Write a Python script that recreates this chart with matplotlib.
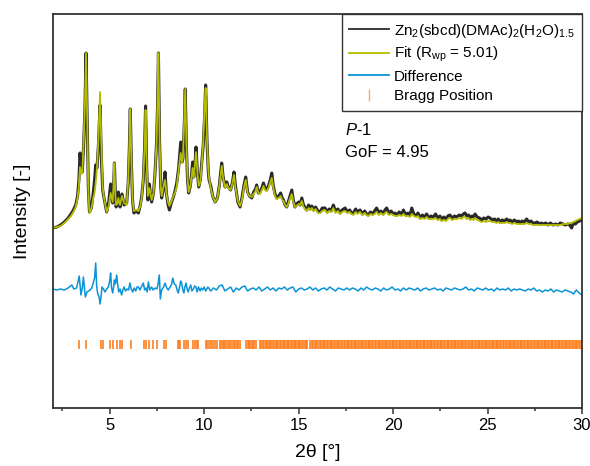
import numpy as np
import matplotlib
matplotlib.use("Agg")
import matplotlib.pyplot as plt
from matplotlib.lines import Line2D

plt.rcParams["font.family"] = ["Liberation Sans", "DejaVu Sans"]
plt.rcParams["mathtext.fontset"] = "custom"
plt.rcParams["mathtext.rm"] = "Liberation Sans"
plt.rcParams["mathtext.it"] = "Liberation Sans:italic"

# 2theta grid shared by the observed and calculated patterns
two_theta = [
    2.00, 2.20, 2.40, 2.60, 2.80, 2.95, 3.08, 3.20, 3.30, 3.37,
    3.43, 3.50, 3.55, 3.62, 3.69, 3.75, 3.81, 3.87, 3.93, 4.03,
    4.13, 4.20, 4.26, 4.33, 4.41, 4.49, 4.56, 4.63, 4.72, 4.84,
    4.95, 5.05, 5.11, 5.16, 5.21, 5.25, 5.30, 5.34, 5.40, 5.46,
    5.51, 5.55, 5.65, 5.76, 5.90, 5.98, 6.04, 6.09, 6.15, 6.21,
    6.28, 6.40, 6.52, 6.62, 6.69, 6.78, 6.85, 6.90, 6.96, 7.02,
    7.10, 7.16, 7.22, 7.32, 7.40, 7.48, 7.53, 7.58, 7.64, 7.70,
    7.75, 7.85, 7.93, 8.00, 8.08, 8.16, 8.26, 8.37, 8.47, 8.55,
    8.65, 8.76, 8.84, 8.88, 8.95, 9.00, 9.06, 9.12, 9.18, 9.27,
    9.34, 9.39, 9.45, 9.52, 9.57, 9.64, 9.71, 9.80, 9.87, 9.95,
    10.02, 10.08, 10.15, 10.22, 10.26, 10.35, 10.45, 10.58, 10.70, 10.80,
    10.87, 10.93, 11.00, 11.11, 11.20, 11.28, 11.40, 11.50, 11.58, 11.66,
    11.78, 11.90, 12.00, 12.10, 12.20, 12.30, 12.40, 12.52, 12.62, 12.72,
    12.78, 12.87, 12.96, 13.05, 13.14, 13.22, 13.31, 13.40, 13.50, 13.58,
    13.66, 13.75, 13.84, 13.95, 14.05, 14.13, 14.20, 14.28, 14.37, 14.45,
    14.55, 14.64, 14.72, 14.81, 14.90, 15.00, 15.08, 15.17, 15.26, 15.35,
    15.43, 15.53, 15.62, 15.70, 15.80, 15.90, 16.02, 16.14, 16.25, 16.40,
    16.52, 16.62, 16.72, 16.84, 16.95, 17.08, 17.19, 17.30, 17.46, 17.58,
    17.70, 17.80, 17.90, 18.02, 18.12, 18.25, 18.38, 18.50, 18.60, 18.69,
    18.80, 18.92, 19.02, 19.13, 19.25, 19.35, 19.48, 19.57, 19.66, 19.78,
    19.90, 20.00, 20.10, 20.22, 20.32, 20.45, 20.55, 20.66, 20.78, 20.90,
    20.99, 21.10, 21.22, 21.32, 21.43, 21.55, 21.66, 21.78, 21.88, 22.00,
    22.13, 22.25, 22.36, 22.48, 22.57, 22.68, 22.80, 22.90, 23.01, 23.12,
    23.25, 23.37, 23.50, 23.62, 23.72, 23.81, 23.90, 24.00, 24.07, 24.18,
    24.26, 24.34, 24.45, 24.57, 24.69, 24.80, 24.92, 25.03, 25.13, 25.25,
    25.37, 25.48, 25.57, 25.66, 25.78, 25.90, 26.02, 26.10, 26.19, 26.30,
    26.42, 26.55, 26.64, 26.72, 26.82, 26.95, 27.07, 27.18, 27.30, 27.40,
    27.51, 27.62, 27.75, 27.85, 27.95, 28.08, 28.20, 28.32, 28.48, 28.60,
    28.72, 28.85, 29.00, 29.12, 29.25, 29.35, 29.45, 29.55, 29.65, 29.75,
    29.88, 30.00,
]

intensity_obs = [
    180, 181, 183, 186, 190, 194, 198, 203, 212, 228,
    255, 236, 236, 262, 300, 355, 290, 220, 196, 200,
    215, 228, 243, 240, 265, 303, 250, 218, 208, 196,
    206, 224, 212, 205, 222, 245, 215, 201, 207, 216,
    206, 201, 214, 203, 205, 225, 260, 299, 245, 208,
    195, 197, 195, 203, 211, 228, 262, 302, 240, 208,
    224, 212, 206, 215, 235, 265, 300, 355, 268, 222,
    210, 220, 236, 215, 204, 198, 205, 211, 218, 225,
    240, 266, 246, 250, 285, 319, 262, 228, 215, 222,
    235, 246, 231, 245, 261, 236, 221, 228, 245, 262,
    290, 323, 268, 236, 228, 222, 212, 206, 210, 222,
    235, 245, 232, 221, 226, 221, 218, 226, 236, 222,
    206, 201, 210, 222, 231, 216, 212, 210, 216, 219,
    223, 215, 216, 220, 225, 220, 218, 222, 228, 235,
    222, 214, 210, 212, 215, 210, 208, 203, 201, 206,
    212, 218, 208, 201, 204, 206, 203, 210, 203, 200,
    198, 203, 199, 202, 198, 201, 197, 196, 200, 200,
    196, 199, 197, 203, 197, 199, 195, 198, 200, 196,
    198, 195, 195, 199, 196, 198, 194, 197, 194, 193,
    196, 194, 197, 200, 195, 197, 194, 198, 200, 195,
    197, 194, 195, 193, 196, 194, 198, 193, 195, 193,
    200, 194, 192, 195, 190, 193, 191, 194, 190, 192,
    191, 194, 190, 192, 188, 191, 189, 192, 193, 190,
    192, 191, 193, 192, 194, 195, 192, 193, 190, 192,
    191, 194, 191, 190, 188, 190, 189, 191, 190, 188,
    189, 187, 189, 186, 188, 187, 189, 187, 188, 186,
    188, 186, 187, 185, 187, 186, 189, 186, 187, 185,
    185, 186, 184, 185, 184, 185, 183, 185, 183, 184,
    183, 185, 184, 183, 184, 183, 180, 185, 184, 186,
    187, 188,
]

intensity_calc = [
    180, 181, 182, 185, 189, 192, 196, 201, 210, 222,
    241, 234, 236, 265, 305, 355, 290, 218, 195, 199,
    210, 215, 225, 240, 272, 316, 262, 220, 208, 196,
    202, 215, 210, 206, 225, 245, 213, 203, 204, 210,
    205, 203, 212, 205, 203, 228, 262, 299, 247, 208,
    197, 198, 197, 202, 210, 230, 262, 298, 244, 212,
    220, 214, 208, 215, 235, 265, 305, 355, 270, 222,
    212, 222, 228, 215, 206, 202, 206, 212, 216, 222,
    238, 255, 245, 252, 290, 319, 265, 230, 216, 222,
    233, 240, 230, 245, 256, 236, 222, 226, 243, 265,
    300, 320, 270, 238, 230, 220, 212, 206, 210, 221,
    232, 242, 231, 220, 224, 220, 218, 225, 233, 220,
    207, 202, 208, 220, 228, 215, 212, 211, 214, 217,
    221, 215, 214, 218, 222, 218, 217, 220, 226, 230,
    220, 212, 209, 210, 212, 208, 207, 203, 201, 204,
    210, 214, 206, 201, 202, 204, 203, 207, 201, 199,
    197, 200, 198, 200, 197, 199, 195, 195, 197, 198,
    195, 197, 196, 200, 195, 197, 194, 196, 197, 195,
    196, 194, 193, 196, 194, 196, 193, 195, 193, 192,
    194, 193, 194, 196, 193, 195, 193, 195, 196, 193,
    194, 193, 192, 192, 193, 192, 194, 192, 192, 191,
    194, 192, 191, 192, 189, 190, 189, 191, 189, 189,
    189, 190, 188, 189, 187, 188, 187, 189, 190, 188,
    189, 189, 190, 189, 191, 191, 189, 190, 188, 189,
    188, 190, 188, 187, 186, 187, 186, 187, 187, 186,
    186, 185, 186, 185, 185, 185, 186, 185, 185, 184,
    185, 184, 184, 184, 184, 184, 185, 184, 184, 183,
    183, 183, 183, 183, 183, 183, 183, 183, 183, 183,
    183, 183, 184, 184, 184, 185, 185, 186, 187, 188,
    189, 190,
]

# difference curve (obs - calc, shifted down)
diff_theta_low = [
    2.00, 2.20, 2.40, 2.60, 2.80, 3.00, 3.10, 3.25, 3.39, 3.48,
    3.55, 3.61, 3.71, 3.80, 3.96, 4.05, 4.13, 4.20, 4.26, 4.31,
    4.36, 4.45, 4.49, 4.55, 4.59, 4.67, 4.75, 4.84, 4.93, 5.00,
    5.05, 5.10, 5.16, 5.21, 5.25, 5.30, 5.37, 5.42, 5.48, 5.55,
    5.63, 5.70, 5.76, 5.84, 5.92, 6.00, 6.07, 6.14, 6.22, 6.30,
    6.38, 6.45, 6.52, 6.60, 6.70, 6.78, 6.85, 6.92, 6.98, 7.05,
    7.12, 7.22, 7.30, 7.40, 7.50, 7.56, 7.63, 7.68, 7.75, 7.85,
    7.93, 8.02, 8.10, 8.20, 8.28, 8.34, 8.42, 8.50, 8.57, 8.63,
    8.70, 8.76, 8.81, 8.87, 8.93, 8.98, 9.04, 9.10, 9.15, 9.22,
    9.29, 9.35, 9.43, 9.50, 9.57, 9.62, 9.70, 9.78, 9.85, 9.92,
    10.00, 10.08,
]
diff_low = [
    119, 118, 119, 118, 120, 123, 119, 120, 132, 113,
    120, 131, 111, 116, 118, 120, 125, 130, 145, 122,
    115, 110, 104, 112, 121, 119, 116, 119, 121, 127,
    135, 120, 115, 121, 128, 124, 133, 124, 116, 119,
    113, 118, 121, 117, 119, 118, 125, 119, 116, 120,
    117, 121, 121, 118, 122, 125, 118, 120, 116, 126,
    118, 121, 118, 120, 119, 124, 133, 109, 118, 121,
    125, 120, 118, 121, 124, 130, 124, 123, 118, 115,
    121, 127, 125, 118, 115, 121, 125, 119, 116, 120,
    123, 117, 119, 122, 121, 116, 121, 117, 120, 118,
    121, 117,
]
# high-angle part of the difference, 10.2-30 deg in 0.15 deg steps
diff_high = [
    121, 117, 120, 118, 122, 123, 117, 119, 121, 116,
    120, 118, 121, 122, 117, 119, 120, 118, 121, 117,
    119, 121, 118, 120, 117, 120, 119, 121, 118, 120,
    121, 116, 119, 120, 118, 119, 121, 118, 120, 117,
    119, 120, 118, 121, 119, 117, 120, 119, 118, 120,
    118, 120, 119, 117, 120, 118, 121, 119, 118, 120,
    119, 117, 120, 118, 119, 121, 118, 119, 117, 120,
    118, 120, 119, 118, 120, 117, 119, 120, 118, 119,
    120, 118, 119, 117, 120, 119, 118, 120, 119, 118,
    119, 121, 118, 119, 117, 120, 119, 118, 120, 118,
    119, 117, 120, 118, 119, 118, 120, 117, 119, 118,
    119, 118, 117, 119, 118, 120, 117, 118, 116, 118,
    117, 119, 116, 118, 117, 116, 118, 117, 116, 114,
    118, 115, 113,
]

# reflection positions for P-1
bragg_pos = [
    3.39, 3.75, 4.52, 4.66, 5.02, 5.19, 5.37, 5.55, 5.67, 6.11,
    6.82, 6.92, 7.10, 7.31, 7.49, 7.89, 7.98, 8.63, 8.68, 8.72,
    8.93, 9.04, 9.16, 9.43, 9.52, 9.64, 9.69, 10.08, 10.13, 10.27,
    10.35, 10.49, 10.58, 10.66, 10.84, 10.90, 10.98, 11.06, 11.13, 11.20,
    11.30, 11.36, 11.45, 11.58, 11.64, 11.72, 11.80, 11.88, 12.22, 12.30,
    12.38, 12.45, 12.52, 12.58, 12.66, 12.74, 12.96, 13.03, 13.10, 13.18,
    13.26, 13.33, 13.41, 13.49, 13.56, 13.63, 13.70, 13.78, 13.85, 13.93,
    14.00, 14.08, 14.15, 14.22, 14.29, 14.36, 14.44, 14.51, 14.58, 14.66,
    14.73, 14.80, 14.87, 14.95, 15.02, 15.10, 15.17, 15.25, 15.32, 15.40,
    15.47, 15.62, 15.70, 15.77, 15.85, 15.92, 16.00, 16.13, 16.20, 16.27,
    16.34, 16.42, 16.49, 16.57, 16.64, 16.72, 16.79, 16.87, 16.94, 17.02,
    17.09, 17.16, 17.24, 17.31, 17.39, 17.46, 17.54, 17.61, 17.69, 17.76,
    17.84, 17.91, 17.98, 18.06, 18.13, 18.21, 18.28, 18.36, 18.43, 18.51,
    18.58, 18.66, 18.73, 18.80, 18.88, 18.95, 19.03, 19.10, 19.18, 19.25,
    19.33, 19.40, 19.48, 19.55, 19.62, 19.70, 19.77, 19.85, 19.92, 20.00,
    20.07, 20.15, 20.22, 20.30, 20.37, 20.44, 20.52, 20.59, 20.67, 20.74,
    20.82, 20.89, 20.97, 21.04, 21.11, 21.19, 21.26, 21.34, 21.41, 21.49,
    21.56, 21.64, 21.71, 21.79, 21.86, 21.93, 22.01, 22.08, 22.16, 22.23,
    22.31, 22.38, 22.46, 22.53, 22.60, 22.68, 22.75, 22.83, 22.90, 22.98,
    23.05, 23.13, 23.20, 23.28, 23.35, 23.42, 23.50, 23.57, 23.65, 23.72,
    23.80, 23.87, 23.95, 24.02, 24.10, 24.17, 24.24, 24.32, 24.39, 24.47,
    24.54, 24.62, 24.69, 24.77, 24.84, 24.91, 24.99, 25.06, 25.14, 25.21,
    25.29, 25.36, 25.44, 25.51, 25.58, 25.66, 25.73, 25.81, 25.88, 25.96,
    26.03, 26.11, 26.18, 26.26, 26.33, 26.40, 26.48, 26.55, 26.63, 26.70,
    26.78, 26.85, 26.93, 27.00, 27.07, 27.15, 27.22, 27.30, 27.37, 27.45,
    27.52, 27.60, 27.67, 27.75, 27.82, 27.89, 27.97, 28.04, 28.12, 28.19,
    28.27, 28.34, 28.42, 28.49, 28.56, 28.64, 28.71, 28.79, 28.86, 28.94,
    29.01, 29.09, 29.16, 29.23, 29.31, 29.38, 29.46, 29.53, 29.61, 29.68,
    29.76, 29.83, 29.91, 29.98,
]

c_obs = "#2a2a2a"
c_fit = "#b5bd00"
c_diff = "#0b93d8"
c_bragg = "#ff7d1a"

fig = plt.figure(figsize=(5.9, 4.66), dpi=100)
ax = fig.add_axes([53 / 590, 58 / 466, 529 / 590, 394 / 466])

diff_theta_high = np.linspace(10.2, 30.0, len(diff_high))
diff_theta = np.concatenate([diff_theta_low, diff_theta_high])
diff_vals = np.concatenate([diff_low, diff_high])

ax.plot(two_theta, intensity_obs, color=c_obs, lw=2.2, solid_joinstyle="round")
ax.plot(two_theta, intensity_calc, color=c_fit, lw=1.3)
ax.plot(diff_theta, diff_vals, color=c_diff, lw=1.1)
ax.vlines(bragg_pos, 59, 68, color=c_bragg, lw=1.3, alpha=0.9)

ax.set_xlim(2, 30)
ax.set_ylim(0, 394)
ax.set_yticks([])
ax.set_xticks([5, 10, 15, 20, 25, 30])
ax.set_xticks([2.5, 7.5, 12.5, 17.5, 22.5, 27.5], minor=True)
ax.tick_params(axis="x", which="major", length=4, width=1.1, labelsize=12, pad=3, color="#333333")
ax.tick_params(axis="x", which="minor", length=2.5, width=1.1, color="#333333")
for s in ax.spines.values():
    s.set_linewidth(1.3)
    s.set_color("#333333")

ax.set_xlabel("2θ [°]", fontsize=14, labelpad=8)
ax.set_ylabel("Intensity [-]", fontsize=14, labelpad=16)

ax.text(0.552, 0.705, r"$\mathit{P}$-1", transform=ax.transAxes, fontsize=12, va="center")
ax.text(0.552, 0.648, "GoF = 4.95", transform=ax.transAxes, fontsize=12, va="center")

handles = [
    Line2D([], [], color=c_obs, lw=1.3),
    Line2D([], [], color=c_fit, lw=1.3),
    Line2D([], [], color=c_diff, lw=1.3),
    Line2D([], [], color=c_bragg, lw=0, marker="|", markersize=8, alpha=0.7),
]
labels = [
    r"Zn$_2$(sbcd)(DMAc)$_2$(H$_2$O)$_{1.5}$",
    r"Fit (R$_{\mathrm{wp}}$ = 5.01)",
    "Difference",
    "Bragg Position",
]
leg = ax.legend(handles, labels, loc="upper right", bbox_to_anchor=(1, 1),
                borderaxespad=0, fontsize=11, frameon=True, fancybox=False,
                framealpha=1, edgecolor="#333333", handlelength=2.6,
                handletextpad=0.3, labelspacing=0.35, borderpad=0.5)
leg.get_frame().set_linewidth(1.0)

fig.savefig("out.png", dpi=100)
